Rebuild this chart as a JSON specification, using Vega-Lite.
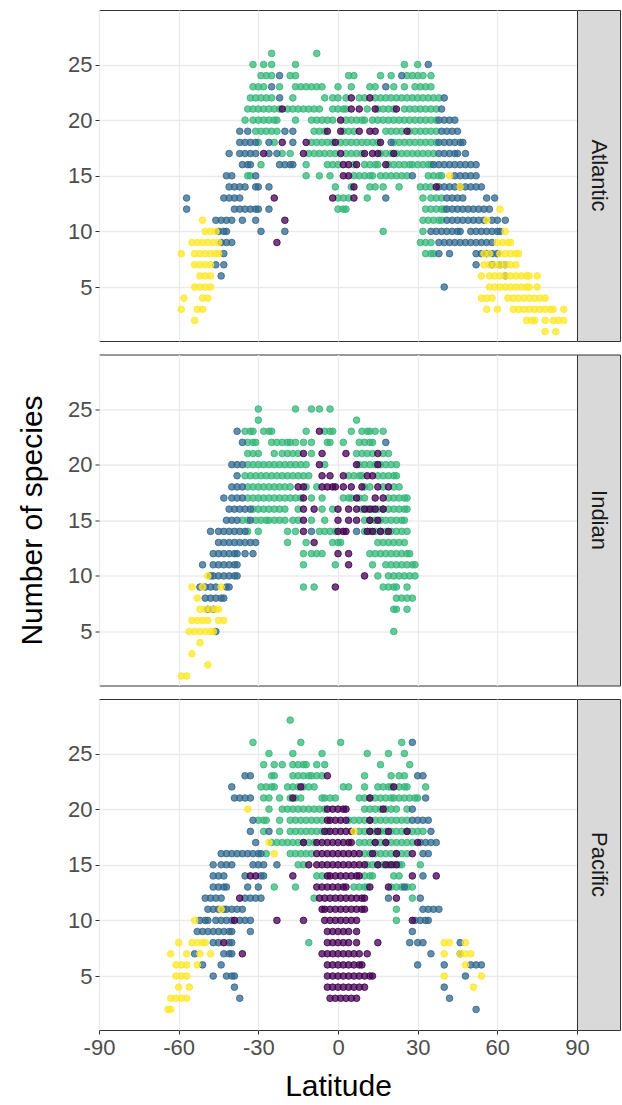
{
"$schema": "https://vega.github.io/schema/vega-lite/v6.json",
"background": "white",
"padding": {"left": 17, "top": 9, "right": 0, "bottom": 5},
"spacing": 11.5,
"config": {
  "font": "Liberation Sans",
  "view": {"stroke": "#333333", "strokeWidth": 1},
  "axis": {"gridColor": "#EBEBEB", "gridWidth": 1.3, "domain": false, "tickColor": "#333333", "tickSize": 4, "labelColor": "#4D4D4D", "labelFontSize": 22, "titleFontSize": 30, "titleFontWeight": "normal", "titleColor": "#000000", "labelPadding": 3, "titlePadding": 20, "labelFlush": false}
},
"datasets": {
"atl": [
{"lat":-25,"n":26,"grp":1},{"lat":-8,"n":26,"grp":1},
{"lat":-32,"n":25,"grp":1},{"lat":-28,"n":25,"grp":1},{"lat":-25,"n":25,"grp":1},{"lat":-16,"n":25,"grp":1},{"lat":25,"n":25,"grp":1},{"lat":30,"n":25,"grp":1},{"lat":34,"n":25,"grp":2},
{"lat":-29,"n":24,"grp":1},{"lat":-27,"n":24,"grp":1},{"lat":-25,"n":24,"grp":1},{"lat":-22,"n":24,"grp":2},{"lat":-18,"n":24,"grp":1},{"lat":-16,"n":24,"grp":1},{"lat":4,"n":24,"grp":1},{"lat":6,"n":24,"grp":1},{"lat":16,"n":24,"grp":1},{"lat":20,"n":24,"grp":1},{"lat":24,"n":24,"grp":2},{"lat":26,"n":24,"grp":1},{"lat":28,"n":24,"grp":1},{"lat":30,"n":24,"grp":1},{"lat":32,"n":24,"grp":1},{"lat":35,"n":24,"grp":1},
{"lat":-32,"n":23,"grp":1},{"lat":-30,"n":23,"grp":1},{"lat":-28,"n":23,"grp":1},{"lat":-22,"n":23,"grp":1},{"lat":-16,"n":23,"grp":1},{"lat":-14,"n":23,"grp":1},{"lat":-12,"n":23,"grp":1},{"lat":-10,"n":23,"grp":1},{"lat":-8,"n":23,"grp":1},{"lat":-6,"n":23,"grp":1},{"lat":0,"n":23,"grp":1},{"lat":5,"n":23,"grp":1},{"lat":12,"n":23,"grp":1},{"lat":14,"n":23,"grp":1},{"lat":21,"n":23,"grp":1},{"lat":25,"n":23,"grp":1},{"lat":29,"n":23,"grp":1},{"lat":31,"n":23,"grp":1},{"lat":33,"n":23,"grp":1},{"lat":35,"n":23,"grp":1},{"lat":-25,"n":23,"grp":2},{"lat":18,"n":23,"grp":2},
{"lat":-33,"n":22,"grp":1},{"lat":-31,"n":22,"grp":1},{"lat":-29,"n":22,"grp":1},{"lat":-27,"n":22,"grp":1},{"lat":-25,"n":22,"grp":1},{"lat":-17,"n":22,"grp":1},{"lat":-5,"n":22,"grp":1},{"lat":-2,"n":22,"grp":1},{"lat":0,"n":22,"grp":1},{"lat":3,"n":22,"grp":1},{"lat":8,"n":22,"grp":1},{"lat":10,"n":22,"grp":1},{"lat":14,"n":22,"grp":1},{"lat":16,"n":22,"grp":1},{"lat":18,"n":22,"grp":1},{"lat":20,"n":22,"grp":1},{"lat":22,"n":22,"grp":1},{"lat":24,"n":22,"grp":1},{"lat":26,"n":22,"grp":1},{"lat":28,"n":22,"grp":1},{"lat":30,"n":22,"grp":1},{"lat":32,"n":22,"grp":1},{"lat":34,"n":22,"grp":1},{"lat":36,"n":22,"grp":1},{"lat":38,"n":22,"grp":1},{"lat":5,"n":22,"grp":3},{"lat":12,"n":22,"grp":3},{"lat":-22,"n":22,"grp":2},{"lat":40,"n":22,"grp":2},
{"lat":-34,"n":21,"grp":1},{"lat":-32,"n":21,"grp":1},{"lat":-30,"n":21,"grp":1},{"lat":-28,"n":21,"grp":1},{"lat":-26,"n":21,"grp":1},{"lat":-24,"n":21,"grp":1},{"lat":-22,"n":21,"grp":1},{"lat":-19,"n":21,"grp":1},{"lat":-17,"n":21,"grp":1},{"lat":-15,"n":21,"grp":1},{"lat":-13,"n":21,"grp":1},{"lat":-11,"n":21,"grp":1},{"lat":-9,"n":21,"grp":1},{"lat":-7,"n":21,"grp":1},{"lat":-2,"n":21,"grp":1},{"lat":0,"n":21,"grp":1},{"lat":2,"n":21,"grp":1},{"lat":3,"n":21,"grp":1},{"lat":11,"n":21,"grp":1},{"lat":15,"n":21,"grp":1},{"lat":17,"n":21,"grp":1},{"lat":19,"n":21,"grp":1},{"lat":21,"n":21,"grp":1},{"lat":25,"n":21,"grp":1},{"lat":27,"n":21,"grp":1},{"lat":29,"n":21,"grp":1},{"lat":31,"n":21,"grp":1},{"lat":33,"n":21,"grp":1},{"lat":35,"n":21,"grp":1},{"lat":37,"n":21,"grp":1},{"lat":-21,"n":21,"grp":3},{"lat":5,"n":21,"grp":3},{"lat":8,"n":21,"grp":3},{"lat":14,"n":21,"grp":3},{"lat":22,"n":21,"grp":3},{"lat":39,"n":21,"grp":2},
{"lat":-35,"n":20,"grp":1},{"lat":-32,"n":20,"grp":1},{"lat":-30,"n":20,"grp":1},{"lat":-28,"n":20,"grp":1},{"lat":-26,"n":20,"grp":1},{"lat":-24,"n":20,"grp":1},{"lat":-23,"n":20,"grp":1},{"lat":-16,"n":20,"grp":1},{"lat":-10,"n":20,"grp":1},{"lat":-8,"n":20,"grp":1},{"lat":-6,"n":20,"grp":1},{"lat":-4,"n":20,"grp":1},{"lat":-2,"n":20,"grp":1},{"lat":3,"n":20,"grp":1},{"lat":5,"n":20,"grp":1},{"lat":7,"n":20,"grp":1},{"lat":9,"n":20,"grp":1},{"lat":10,"n":20,"grp":1},{"lat":13,"n":20,"grp":1},{"lat":15,"n":20,"grp":1},{"lat":17,"n":20,"grp":1},{"lat":19,"n":20,"grp":1},{"lat":21,"n":20,"grp":1},{"lat":23,"n":20,"grp":1},{"lat":25,"n":20,"grp":1},{"lat":27,"n":20,"grp":1},{"lat":29,"n":20,"grp":1},{"lat":31,"n":20,"grp":1},{"lat":33,"n":20,"grp":1},{"lat":35,"n":20,"grp":1},{"lat":37,"n":20,"grp":1},{"lat":1,"n":20,"grp":3},{"lat":38,"n":20,"grp":2},{"lat":40,"n":20,"grp":2},{"lat":42,"n":20,"grp":2},{"lat":44,"n":20,"grp":2},
{"lat":-37,"n":19,"grp":2},{"lat":-34,"n":19,"grp":2},{"lat":-20,"n":19,"grp":2},{"lat":-17,"n":19,"grp":2},{"lat":39,"n":19,"grp":2},{"lat":41,"n":19,"grp":2},{"lat":43,"n":19,"grp":2},{"lat":45,"n":19,"grp":2},{"lat":-31,"n":19,"grp":1},{"lat":-29,"n":19,"grp":1},{"lat":-27,"n":19,"grp":1},{"lat":-25,"n":19,"grp":1},{"lat":-23,"n":19,"grp":1},{"lat":-9,"n":19,"grp":1},{"lat":-7,"n":19,"grp":1},{"lat":-5,"n":19,"grp":1},{"lat":2,"n":19,"grp":1},{"lat":4,"n":19,"grp":1},{"lat":6,"n":19,"grp":1},{"lat":18,"n":19,"grp":1},{"lat":20,"n":19,"grp":1},{"lat":22,"n":19,"grp":1},{"lat":24,"n":19,"grp":1},{"lat":27,"n":19,"grp":1},{"lat":29,"n":19,"grp":1},{"lat":31,"n":19,"grp":1},{"lat":33,"n":19,"grp":1},{"lat":35,"n":19,"grp":1},{"lat":37,"n":19,"grp":1},{"lat":-4,"n":19,"grp":3},{"lat":1,"n":19,"grp":3},{"lat":8,"n":19,"grp":3},{"lat":12,"n":19,"grp":3},{"lat":14,"n":19,"grp":3},{"lat":26,"n":19,"grp":3},
{"lat":-37,"n":18,"grp":2},{"lat":-35,"n":18,"grp":2},{"lat":-33,"n":18,"grp":2},{"lat":-31,"n":18,"grp":2},{"lat":-26,"n":18,"grp":2},{"lat":-17,"n":18,"grp":2},{"lat":20,"n":18,"grp":2},{"lat":38,"n":18,"grp":2},{"lat":40,"n":18,"grp":2},{"lat":42,"n":18,"grp":2},{"lat":44,"n":18,"grp":2},{"lat":46,"n":18,"grp":2},{"lat":47,"n":18,"grp":2},{"lat":-30,"n":18,"grp":1},{"lat":-24,"n":18,"grp":1},{"lat":-10,"n":18,"grp":1},{"lat":-8,"n":18,"grp":1},{"lat":-6,"n":18,"grp":1},{"lat":-4,"n":18,"grp":1},{"lat":-2,"n":18,"grp":1},{"lat":1,"n":18,"grp":1},{"lat":3,"n":18,"grp":1},{"lat":5,"n":18,"grp":1},{"lat":7,"n":18,"grp":1},{"lat":9,"n":18,"grp":1},{"lat":11,"n":18,"grp":1},{"lat":13,"n":18,"grp":1},{"lat":15,"n":18,"grp":1},{"lat":21,"n":18,"grp":1},{"lat":23,"n":18,"grp":1},{"lat":25,"n":18,"grp":1},{"lat":27,"n":18,"grp":1},{"lat":29,"n":18,"grp":1},{"lat":31,"n":18,"grp":1},{"lat":33,"n":18,"grp":1},{"lat":35,"n":18,"grp":1},{"lat":37,"n":18,"grp":1},{"lat":-21,"n":18,"grp":3},{"lat":-12,"n":18,"grp":3},{"lat":-1,"n":18,"grp":3},{"lat":16,"n":18,"grp":3},
{"lat":-41,"n":17,"grp":2},{"lat":-37,"n":17,"grp":2},{"lat":-35,"n":17,"grp":2},{"lat":-33,"n":17,"grp":2},{"lat":-31,"n":17,"grp":2},{"lat":-26,"n":17,"grp":2},{"lat":-23,"n":17,"grp":2},{"lat":38,"n":17,"grp":2},{"lat":40,"n":17,"grp":2},{"lat":42,"n":17,"grp":2},{"lat":44,"n":17,"grp":2},{"lat":45,"n":17,"grp":2},{"lat":48,"n":17,"grp":2},{"lat":-21,"n":17,"grp":1},{"lat":-18,"n":17,"grp":1},{"lat":-11,"n":17,"grp":1},{"lat":-9,"n":17,"grp":1},{"lat":-7,"n":17,"grp":1},{"lat":-5,"n":17,"grp":1},{"lat":-3,"n":17,"grp":1},{"lat":-1,"n":17,"grp":1},{"lat":3,"n":17,"grp":1},{"lat":5,"n":17,"grp":1},{"lat":7,"n":17,"grp":1},{"lat":9,"n":17,"grp":1},{"lat":16,"n":17,"grp":1},{"lat":18,"n":17,"grp":1},{"lat":20,"n":17,"grp":1},{"lat":22,"n":17,"grp":1},{"lat":24,"n":17,"grp":1},{"lat":26,"n":17,"grp":1},{"lat":28,"n":17,"grp":1},{"lat":30,"n":17,"grp":1},{"lat":32,"n":17,"grp":1},{"lat":34,"n":17,"grp":1},{"lat":36,"n":17,"grp":1},{"lat":-28,"n":17,"grp":3},{"lat":-13,"n":17,"grp":3},{"lat":1,"n":17,"grp":3},{"lat":10,"n":17,"grp":3},{"lat":13,"n":17,"grp":3},{"lat":15,"n":17,"grp":3},{"lat":21,"n":17,"grp":3},
{"lat":-36,"n":16,"grp":2},{"lat":-34,"n":16,"grp":2},{"lat":-33,"n":16,"grp":2},{"lat":-22,"n":16,"grp":2},{"lat":-20,"n":16,"grp":2},{"lat":-18,"n":16,"grp":2},{"lat":-17,"n":16,"grp":2},{"lat":36,"n":16,"grp":2},{"lat":38,"n":16,"grp":2},{"lat":40,"n":16,"grp":2},{"lat":42,"n":16,"grp":2},{"lat":44,"n":16,"grp":2},{"lat":46,"n":16,"grp":2},{"lat":48,"n":16,"grp":2},{"lat":50,"n":16,"grp":2},{"lat":52,"n":16,"grp":2},{"lat":-29,"n":16,"grp":1},{"lat":-12,"n":16,"grp":1},{"lat":-4,"n":16,"grp":1},{"lat":-2,"n":16,"grp":1},{"lat":0,"n":16,"grp":1},{"lat":6,"n":16,"grp":1},{"lat":10,"n":16,"grp":1},{"lat":12,"n":16,"grp":1},{"lat":14,"n":16,"grp":1},{"lat":15,"n":16,"grp":1},{"lat":19,"n":16,"grp":1},{"lat":21,"n":16,"grp":1},{"lat":23,"n":16,"grp":1},{"lat":25,"n":16,"grp":1},{"lat":27,"n":16,"grp":1},{"lat":28,"n":16,"grp":1},{"lat":30,"n":16,"grp":1},{"lat":32,"n":16,"grp":1},{"lat":34,"n":16,"grp":1},{"lat":35,"n":16,"grp":1},{"lat":2,"n":16,"grp":3},{"lat":4,"n":16,"grp":3},{"lat":7,"n":16,"grp":3},{"lat":18,"n":16,"grp":3},
{"lat":-42,"n":15,"grp":2},{"lat":-40,"n":15,"grp":2},{"lat":-31,"n":15,"grp":2},{"lat":28,"n":15,"grp":2},{"lat":44,"n":15,"grp":2},{"lat":46,"n":15,"grp":2},{"lat":48,"n":15,"grp":2},{"lat":50,"n":15,"grp":2},{"lat":52,"n":15,"grp":2},{"lat":-34,"n":15,"grp":1},{"lat":-33,"n":15,"grp":1},{"lat":-12,"n":15,"grp":1},{"lat":-7,"n":15,"grp":1},{"lat":-3,"n":15,"grp":1},{"lat":6,"n":15,"grp":1},{"lat":8,"n":15,"grp":1},{"lat":10,"n":15,"grp":1},{"lat":12,"n":15,"grp":1},{"lat":13,"n":15,"grp":1},{"lat":16,"n":15,"grp":1},{"lat":18,"n":15,"grp":1},{"lat":20,"n":15,"grp":1},{"lat":22,"n":15,"grp":1},{"lat":24,"n":15,"grp":1},{"lat":26,"n":15,"grp":1},{"lat":34,"n":15,"grp":1},{"lat":36,"n":15,"grp":1},{"lat":38,"n":15,"grp":1},{"lat":39,"n":15,"grp":1},{"lat":2,"n":15,"grp":3},{"lat":4,"n":15,"grp":3},{"lat":42,"n":15,"grp":4},
{"lat":-41,"n":14,"grp":2},{"lat":-39,"n":14,"grp":2},{"lat":-37,"n":14,"grp":2},{"lat":-35,"n":14,"grp":2},{"lat":-31,"n":14,"grp":2},{"lat":-30,"n":14,"grp":2},{"lat":-26,"n":14,"grp":2},{"lat":38,"n":14,"grp":2},{"lat":40,"n":14,"grp":2},{"lat":42,"n":14,"grp":2},{"lat":44,"n":14,"grp":2},{"lat":46,"n":14,"grp":2},{"lat":48,"n":14,"grp":2},{"lat":50,"n":14,"grp":2},{"lat":52,"n":14,"grp":2},{"lat":54,"n":14,"grp":2},{"lat":-1,"n":14,"grp":1},{"lat":5,"n":14,"grp":1},{"lat":12,"n":14,"grp":1},{"lat":14,"n":14,"grp":1},{"lat":17,"n":14,"grp":1},{"lat":23,"n":14,"grp":1},{"lat":31,"n":14,"grp":1},{"lat":33,"n":14,"grp":1},{"lat":35,"n":14,"grp":1},{"lat":6,"n":14,"grp":3},{"lat":37,"n":14,"grp":3},{"lat":46,"n":14,"grp":4},
{"lat":-57,"n":13,"grp":2},{"lat":-43,"n":13,"grp":2},{"lat":-41,"n":13,"grp":2},{"lat":-39,"n":13,"grp":2},{"lat":-37,"n":13,"grp":2},{"lat":18,"n":13,"grp":2},{"lat":41,"n":13,"grp":2},{"lat":43,"n":13,"grp":2},{"lat":45,"n":13,"grp":2},{"lat":47,"n":13,"grp":2},{"lat":56,"n":13,"grp":2},{"lat":59,"n":13,"grp":2},{"lat":0,"n":13,"grp":1},{"lat":2,"n":13,"grp":1},{"lat":4,"n":13,"grp":1},{"lat":11,"n":13,"grp":1},{"lat":32,"n":13,"grp":1},{"lat":35,"n":13,"grp":1},{"lat":37,"n":13,"grp":1},{"lat":39,"n":13,"grp":1},{"lat":-24,"n":13,"grp":3},{"lat":-2,"n":13,"grp":3},{"lat":6,"n":13,"grp":3},
{"lat":-57,"n":12,"grp":2},{"lat":-39,"n":12,"grp":2},{"lat":-37,"n":12,"grp":2},{"lat":-35,"n":12,"grp":2},{"lat":-33,"n":12,"grp":2},{"lat":-31,"n":12,"grp":2},{"lat":-30,"n":12,"grp":2},{"lat":-26,"n":12,"grp":2},{"lat":41,"n":12,"grp":2},{"lat":43,"n":12,"grp":2},{"lat":45,"n":12,"grp":2},{"lat":47,"n":12,"grp":2},{"lat":49,"n":12,"grp":2},{"lat":51,"n":12,"grp":2},{"lat":53,"n":12,"grp":2},{"lat":55,"n":12,"grp":2},{"lat":57,"n":12,"grp":2},{"lat":0,"n":12,"grp":1},{"lat":2,"n":12,"grp":1},{"lat":3,"n":12,"grp":1},{"lat":33,"n":12,"grp":1},{"lat":35,"n":12,"grp":1},{"lat":37,"n":12,"grp":1},{"lat":39,"n":12,"grp":1},{"lat":40,"n":12,"grp":1},{"lat":61,"n":12,"grp":4},
{"lat":-51,"n":11,"grp":4},{"lat":56,"n":11,"grp":4},{"lat":-46,"n":11,"grp":2},{"lat":-44,"n":11,"grp":2},{"lat":-42,"n":11,"grp":2},{"lat":-40,"n":11,"grp":2},{"lat":-36,"n":11,"grp":2},{"lat":-31,"n":11,"grp":2},{"lat":41,"n":11,"grp":2},{"lat":43,"n":11,"grp":2},{"lat":45,"n":11,"grp":2},{"lat":47,"n":11,"grp":2},{"lat":49,"n":11,"grp":2},{"lat":51,"n":11,"grp":2},{"lat":53,"n":11,"grp":2},{"lat":55,"n":11,"grp":2},{"lat":58,"n":11,"grp":2},{"lat":60,"n":11,"grp":2},{"lat":63,"n":11,"grp":2},{"lat":32,"n":11,"grp":1},{"lat":34,"n":11,"grp":1},{"lat":36,"n":11,"grp":1},{"lat":38,"n":11,"grp":1},{"lat":39,"n":11,"grp":1},{"lat":-20,"n":11,"grp":3},
{"lat":-50,"n":10,"grp":4},{"lat":-48,"n":10,"grp":4},{"lat":-46,"n":10,"grp":4},{"lat":63,"n":10,"grp":4},{"lat":-45,"n":10,"grp":2},{"lat":-43,"n":10,"grp":2},{"lat":-42,"n":10,"grp":2},{"lat":-29,"n":10,"grp":2},{"lat":-20,"n":10,"grp":2},{"lat":35,"n":10,"grp":2},{"lat":37,"n":10,"grp":2},{"lat":39,"n":10,"grp":2},{"lat":41,"n":10,"grp":2},{"lat":43,"n":10,"grp":2},{"lat":45,"n":10,"grp":2},{"lat":46,"n":10,"grp":2},{"lat":50,"n":10,"grp":2},{"lat":52,"n":10,"grp":2},{"lat":54,"n":10,"grp":2},{"lat":56,"n":10,"grp":2},{"lat":58,"n":10,"grp":2},{"lat":60,"n":10,"grp":2},{"lat":61,"n":10,"grp":2},{"lat":17,"n":10,"grp":1},{"lat":32,"n":10,"grp":1},
{"lat":-55,"n":9,"grp":4},{"lat":-53,"n":9,"grp":4},{"lat":-51,"n":9,"grp":4},{"lat":-49,"n":9,"grp":4},{"lat":-47,"n":9,"grp":4},{"lat":-45,"n":9,"grp":4},{"lat":60,"n":9,"grp":4},{"lat":62,"n":9,"grp":4},{"lat":64,"n":9,"grp":4},{"lat":65,"n":9,"grp":4},{"lat":-44,"n":9,"grp":2},{"lat":-42,"n":9,"grp":2},{"lat":-40,"n":9,"grp":2},{"lat":38,"n":9,"grp":2},{"lat":40,"n":9,"grp":2},{"lat":42,"n":9,"grp":2},{"lat":44,"n":9,"grp":2},{"lat":46,"n":9,"grp":2},{"lat":48,"n":9,"grp":2},{"lat":50,"n":9,"grp":2},{"lat":52,"n":9,"grp":2},{"lat":54,"n":9,"grp":2},{"lat":56,"n":9,"grp":2},{"lat":58,"n":9,"grp":2},{"lat":31,"n":9,"grp":1},{"lat":33,"n":9,"grp":1},{"lat":35,"n":9,"grp":1},{"lat":-23,"n":9,"grp":3},
{"lat":-59,"n":8,"grp":4},{"lat":-54,"n":8,"grp":4},{"lat":-52,"n":8,"grp":4},{"lat":-50,"n":8,"grp":4},{"lat":-48,"n":8,"grp":4},{"lat":-46,"n":8,"grp":4},{"lat":-45,"n":8,"grp":4},{"lat":55,"n":8,"grp":4},{"lat":57,"n":8,"grp":4},{"lat":61,"n":8,"grp":4},{"lat":63,"n":8,"grp":4},{"lat":65,"n":8,"grp":4},{"lat":67,"n":8,"grp":4},{"lat":68,"n":8,"grp":4},{"lat":-43,"n":8,"grp":2},{"lat":38,"n":8,"grp":2},{"lat":42,"n":8,"grp":2},{"lat":52,"n":8,"grp":2},{"lat":54,"n":8,"grp":2},{"lat":56,"n":8,"grp":2},{"lat":58,"n":8,"grp":2},{"lat":60,"n":8,"grp":2},{"lat":33,"n":8,"grp":1},{"lat":35,"n":8,"grp":1},{"lat":36,"n":8,"grp":1},
{"lat":-54,"n":7,"grp":4},{"lat":-52,"n":7,"grp":4},{"lat":-50,"n":7,"grp":4},{"lat":-48,"n":7,"grp":4},{"lat":55,"n":7,"grp":4},{"lat":57,"n":7,"grp":4},{"lat":59,"n":7,"grp":4},{"lat":61,"n":7,"grp":4},{"lat":63,"n":7,"grp":4},{"lat":65,"n":7,"grp":4},{"lat":67,"n":7,"grp":4},{"lat":-46,"n":7,"grp":2},{"lat":-43,"n":7,"grp":2},{"lat":52,"n":7,"grp":2},{"lat":58,"n":7,"grp":2},{"lat":61,"n":7,"grp":2},{"lat":63,"n":7,"grp":2},
{"lat":-52,"n":6,"grp":4},{"lat":-50,"n":6,"grp":4},{"lat":-48,"n":6,"grp":4},{"lat":54,"n":6,"grp":4},{"lat":57,"n":6,"grp":4},{"lat":59,"n":6,"grp":4},{"lat":61,"n":6,"grp":4},{"lat":63,"n":6,"grp":4},{"lat":65,"n":6,"grp":4},{"lat":67,"n":6,"grp":4},{"lat":69,"n":6,"grp":4},{"lat":71,"n":6,"grp":4},{"lat":72,"n":6,"grp":4},{"lat":75,"n":6,"grp":4},{"lat":-44,"n":6,"grp":2},{"lat":63,"n":6,"grp":2},
{"lat":-54,"n":5,"grp":4},{"lat":-52,"n":5,"grp":4},{"lat":-50,"n":5,"grp":4},{"lat":-48,"n":5,"grp":4},{"lat":57,"n":5,"grp":4},{"lat":59,"n":5,"grp":4},{"lat":61,"n":5,"grp":4},{"lat":63,"n":5,"grp":4},{"lat":65,"n":5,"grp":4},{"lat":67,"n":5,"grp":4},{"lat":69,"n":5,"grp":4},{"lat":71,"n":5,"grp":4},{"lat":72,"n":5,"grp":4},{"lat":75,"n":5,"grp":4},{"lat":40,"n":5,"grp":2},
{"lat":-58,"n":4,"grp":4},{"lat":-51,"n":4,"grp":4},{"lat":-49,"n":4,"grp":4},{"lat":54,"n":4,"grp":4},{"lat":56,"n":4,"grp":4},{"lat":58,"n":4,"grp":4},{"lat":64,"n":4,"grp":4},{"lat":66,"n":4,"grp":4},{"lat":68,"n":4,"grp":4},{"lat":70,"n":4,"grp":4},{"lat":72,"n":4,"grp":4},{"lat":74,"n":4,"grp":4},{"lat":76,"n":4,"grp":4},{"lat":78,"n":4,"grp":4},
{"lat":-59,"n":3,"grp":4},{"lat":-53,"n":3,"grp":4},{"lat":-51,"n":3,"grp":4},{"lat":56,"n":3,"grp":4},{"lat":60,"n":3,"grp":4},{"lat":66,"n":3,"grp":4},{"lat":68,"n":3,"grp":4},{"lat":70,"n":3,"grp":4},{"lat":72,"n":3,"grp":4},{"lat":74,"n":3,"grp":4},{"lat":76,"n":3,"grp":4},{"lat":78,"n":3,"grp":4},{"lat":80,"n":3,"grp":4},{"lat":81,"n":3,"grp":4},{"lat":85,"n":3,"grp":4},
{"lat":-54,"n":2,"grp":4},{"lat":71,"n":2,"grp":4},{"lat":73,"n":2,"grp":4},{"lat":74,"n":2,"grp":4},{"lat":78,"n":2,"grp":4},{"lat":81,"n":2,"grp":4},{"lat":83,"n":2,"grp":4},{"lat":85,"n":2,"grp":4},
{"lat":78,"n":1,"grp":4},{"lat":82,"n":1,"grp":4}
],
"ind": [
{"lat":-30,"n":25,"grp":1},{"lat":-16,"n":25,"grp":1},{"lat":-10,"n":25,"grp":1},{"lat":-7,"n":25,"grp":1},{"lat":-3,"n":25,"grp":1},
{"lat":-30,"n":24,"grp":1},{"lat":7,"n":24,"grp":1},
{"lat":-38,"n":23,"grp":2},{"lat":-35,"n":23,"grp":1},{"lat":-33,"n":23,"grp":1},{"lat":-32,"n":23,"grp":1},{"lat":-28,"n":23,"grp":1},{"lat":-26,"n":23,"grp":1},{"lat":-25,"n":23,"grp":1},{"lat":-12,"n":23,"grp":1},{"lat":-5,"n":23,"grp":1},{"lat":-3,"n":23,"grp":1},{"lat":-2,"n":23,"grp":1},{"lat":5,"n":23,"grp":1},{"lat":9,"n":23,"grp":1},{"lat":11,"n":23,"grp":1},{"lat":12,"n":23,"grp":1},{"lat":14,"n":23,"grp":1},{"lat":17,"n":23,"grp":1},{"lat":-7,"n":23,"grp":3},
{"lat":-36,"n":22,"grp":2},{"lat":18,"n":22,"grp":2},{"lat":-34,"n":22,"grp":1},{"lat":-32,"n":22,"grp":1},{"lat":-31,"n":22,"grp":1},{"lat":-25,"n":22,"grp":1},{"lat":-23,"n":22,"grp":1},{"lat":-21,"n":22,"grp":1},{"lat":-19,"n":22,"grp":1},{"lat":-18,"n":22,"grp":1},{"lat":-16,"n":22,"grp":1},{"lat":-13,"n":22,"grp":1},{"lat":-10,"n":22,"grp":1},{"lat":-4,"n":22,"grp":1},{"lat":-3,"n":22,"grp":1},{"lat":2,"n":22,"grp":1},{"lat":8,"n":22,"grp":1},{"lat":10,"n":22,"grp":1},{"lat":12,"n":22,"grp":1},{"lat":13,"n":22,"grp":1},
{"lat":-34,"n":21,"grp":1},{"lat":-32,"n":21,"grp":1},{"lat":-30,"n":21,"grp":1},{"lat":-24,"n":21,"grp":1},{"lat":-21,"n":21,"grp":1},{"lat":-19,"n":21,"grp":1},{"lat":-17,"n":21,"grp":1},{"lat":-15,"n":21,"grp":1},{"lat":-10,"n":21,"grp":1},{"lat":7,"n":21,"grp":1},{"lat":9,"n":21,"grp":1},{"lat":11,"n":21,"grp":1},{"lat":13,"n":21,"grp":1},{"lat":17,"n":21,"grp":1},{"lat":19,"n":21,"grp":1},{"lat":-13,"n":21,"grp":3},{"lat":-6,"n":21,"grp":3},{"lat":3,"n":21,"grp":3},{"lat":15,"n":21,"grp":3},
{"lat":-40,"n":20,"grp":2},{"lat":-38,"n":20,"grp":2},{"lat":-36,"n":20,"grp":2},{"lat":-34,"n":20,"grp":1},{"lat":-32,"n":20,"grp":1},{"lat":-30,"n":20,"grp":1},{"lat":-28,"n":20,"grp":1},{"lat":-26,"n":20,"grp":1},{"lat":-24,"n":20,"grp":1},{"lat":-22,"n":20,"grp":1},{"lat":-20,"n":20,"grp":1},{"lat":-18,"n":20,"grp":1},{"lat":-16,"n":20,"grp":1},{"lat":-14,"n":20,"grp":1},{"lat":-12,"n":20,"grp":1},{"lat":-5,"n":20,"grp":1},{"lat":8,"n":20,"grp":1},{"lat":10,"n":20,"grp":1},{"lat":12,"n":20,"grp":1},{"lat":14,"n":20,"grp":1},{"lat":16,"n":20,"grp":1},{"lat":18,"n":20,"grp":1},{"lat":20,"n":20,"grp":1},{"lat":22,"n":20,"grp":1},{"lat":-7,"n":20,"grp":3},{"lat":7,"n":20,"grp":3},{"lat":15,"n":20,"grp":3},
{"lat":-38,"n":19,"grp":2},{"lat":-35,"n":19,"grp":1},{"lat":-33,"n":19,"grp":1},{"lat":-31,"n":19,"grp":1},{"lat":-29,"n":19,"grp":1},{"lat":-27,"n":19,"grp":1},{"lat":-25,"n":19,"grp":1},{"lat":-23,"n":19,"grp":1},{"lat":-21,"n":19,"grp":1},{"lat":-19,"n":19,"grp":1},{"lat":-17,"n":19,"grp":1},{"lat":-15,"n":19,"grp":1},{"lat":-13,"n":19,"grp":1},{"lat":-11,"n":19,"grp":1},{"lat":4,"n":19,"grp":1},{"lat":6,"n":19,"grp":1},{"lat":8,"n":19,"grp":1},{"lat":9,"n":19,"grp":1},{"lat":15,"n":19,"grp":1},{"lat":17,"n":19,"grp":1},{"lat":19,"n":19,"grp":1},{"lat":21,"n":19,"grp":1},{"lat":22,"n":19,"grp":1},{"lat":-6,"n":19,"grp":3},{"lat":-3,"n":19,"grp":3},{"lat":2,"n":19,"grp":3},{"lat":11,"n":19,"grp":3},{"lat":13,"n":19,"grp":3},
{"lat":-40,"n":18,"grp":2},{"lat":-38,"n":18,"grp":2},{"lat":-36,"n":18,"grp":2},{"lat":-34,"n":18,"grp":1},{"lat":-32,"n":18,"grp":1},{"lat":-30,"n":18,"grp":1},{"lat":-28,"n":18,"grp":1},{"lat":-26,"n":18,"grp":1},{"lat":-24,"n":18,"grp":1},{"lat":-22,"n":18,"grp":1},{"lat":-20,"n":18,"grp":1},{"lat":-18,"n":18,"grp":1},{"lat":-12,"n":18,"grp":1},{"lat":-8,"n":18,"grp":1},{"lat":10,"n":18,"grp":1},{"lat":12,"n":18,"grp":1},{"lat":17,"n":18,"grp":1},{"lat":21,"n":18,"grp":1},{"lat":23,"n":18,"grp":1},{"lat":-15,"n":18,"grp":3},{"lat":-13,"n":18,"grp":3},{"lat":-6,"n":18,"grp":3},{"lat":-4,"n":18,"grp":3},{"lat":-2,"n":18,"grp":3},{"lat":-1,"n":18,"grp":3},{"lat":2,"n":18,"grp":3},{"lat":5,"n":18,"grp":3},{"lat":9,"n":18,"grp":3},{"lat":15,"n":18,"grp":3},{"lat":19,"n":18,"grp":3},
{"lat":-43,"n":17,"grp":2},{"lat":-40,"n":17,"grp":2},{"lat":-38,"n":17,"grp":2},{"lat":-36,"n":17,"grp":2},{"lat":-34,"n":17,"grp":1},{"lat":-32,"n":17,"grp":1},{"lat":-30,"n":17,"grp":1},{"lat":-28,"n":17,"grp":1},{"lat":-26,"n":17,"grp":1},{"lat":-24,"n":17,"grp":1},{"lat":-22,"n":17,"grp":1},{"lat":-20,"n":17,"grp":1},{"lat":-18,"n":17,"grp":1},{"lat":-16,"n":17,"grp":1},{"lat":-14,"n":17,"grp":1},{"lat":-10,"n":17,"grp":1},{"lat":-6,"n":17,"grp":1},{"lat":2,"n":17,"grp":1},{"lat":4,"n":17,"grp":1},{"lat":5,"n":17,"grp":1},{"lat":8,"n":17,"grp":1},{"lat":10,"n":17,"grp":1},{"lat":19,"n":17,"grp":1},{"lat":21,"n":17,"grp":1},{"lat":23,"n":17,"grp":1},{"lat":25,"n":17,"grp":1},{"lat":26,"n":17,"grp":1},{"lat":-13,"n":17,"grp":3},{"lat":7,"n":17,"grp":3},{"lat":14,"n":17,"grp":3},{"lat":17,"n":17,"grp":3},
{"lat":-41,"n":16,"grp":2},{"lat":-39,"n":16,"grp":2},{"lat":-37,"n":16,"grp":2},{"lat":-35,"n":16,"grp":2},{"lat":-33,"n":16,"grp":2},{"lat":-32,"n":16,"grp":1},{"lat":-30,"n":16,"grp":1},{"lat":-28,"n":16,"grp":1},{"lat":-26,"n":16,"grp":1},{"lat":-24,"n":16,"grp":1},{"lat":-22,"n":16,"grp":1},{"lat":-20,"n":16,"grp":1},{"lat":-15,"n":16,"grp":1},{"lat":-6,"n":16,"grp":1},{"lat":-2,"n":16,"grp":1},{"lat":9,"n":16,"grp":1},{"lat":11,"n":16,"grp":1},{"lat":13,"n":16,"grp":1},{"lat":15,"n":16,"grp":1},{"lat":17,"n":16,"grp":1},{"lat":19,"n":16,"grp":1},{"lat":21,"n":16,"grp":1},{"lat":23,"n":16,"grp":1},{"lat":25,"n":16,"grp":1},{"lat":26,"n":16,"grp":1},{"lat":-13,"n":16,"grp":3},{"lat":-9,"n":16,"grp":3},{"lat":0,"n":16,"grp":3},{"lat":4,"n":16,"grp":3},{"lat":7,"n":16,"grp":3},{"lat":10,"n":16,"grp":3},{"lat":12,"n":16,"grp":3},{"lat":14,"n":16,"grp":3},{"lat":17,"n":16,"grp":3},
{"lat":-42,"n":15,"grp":2},{"lat":-40,"n":15,"grp":2},{"lat":-38,"n":15,"grp":2},{"lat":-33,"n":15,"grp":2},{"lat":-36,"n":15,"grp":1},{"lat":-34,"n":15,"grp":1},{"lat":-31,"n":15,"grp":1},{"lat":-29,"n":15,"grp":1},{"lat":-27,"n":15,"grp":1},{"lat":-26,"n":15,"grp":1},{"lat":-24,"n":15,"grp":1},{"lat":-22,"n":15,"grp":1},{"lat":-20,"n":15,"grp":1},{"lat":-17,"n":15,"grp":1},{"lat":-15,"n":15,"grp":1},{"lat":-10,"n":15,"grp":1},{"lat":-5,"n":15,"grp":1},{"lat":10,"n":15,"grp":1},{"lat":12,"n":15,"grp":1},{"lat":14,"n":15,"grp":1},{"lat":16,"n":15,"grp":1},{"lat":18,"n":15,"grp":1},{"lat":20,"n":15,"grp":1},{"lat":22,"n":15,"grp":1},{"lat":24,"n":15,"grp":1},{"lat":25,"n":15,"grp":1},{"lat":-13,"n":15,"grp":3},{"lat":0,"n":15,"grp":3},{"lat":4,"n":15,"grp":3},{"lat":7,"n":15,"grp":3},{"lat":12,"n":15,"grp":3},{"lat":15,"n":15,"grp":3},
{"lat":-48,"n":14,"grp":2},{"lat":-45,"n":14,"grp":2},{"lat":-43,"n":14,"grp":2},{"lat":-41,"n":14,"grp":2},{"lat":-39,"n":14,"grp":2},{"lat":-37,"n":14,"grp":2},{"lat":-35,"n":14,"grp":2},{"lat":-10,"n":14,"grp":2},{"lat":7,"n":14,"grp":2},{"lat":-34,"n":14,"grp":1},{"lat":-30,"n":14,"grp":1},{"lat":-19,"n":14,"grp":1},{"lat":-16,"n":14,"grp":1},{"lat":-7,"n":14,"grp":1},{"lat":-5,"n":14,"grp":1},{"lat":-3,"n":14,"grp":1},{"lat":-1,"n":14,"grp":1},{"lat":10,"n":14,"grp":1},{"lat":12,"n":14,"grp":1},{"lat":14,"n":14,"grp":1},{"lat":16,"n":14,"grp":1},{"lat":18,"n":14,"grp":1},{"lat":20,"n":14,"grp":1},{"lat":22,"n":14,"grp":1},{"lat":24,"n":14,"grp":1},{"lat":26,"n":14,"grp":1},{"lat":-13,"n":14,"grp":3},{"lat":0,"n":14,"grp":3},{"lat":2,"n":14,"grp":3},{"lat":3,"n":14,"grp":3},{"lat":11,"n":14,"grp":3},{"lat":13,"n":14,"grp":3},{"lat":16,"n":14,"grp":3},{"lat":19,"n":14,"grp":3},
{"lat":-45,"n":13,"grp":2},{"lat":-43,"n":13,"grp":2},{"lat":-41,"n":13,"grp":2},{"lat":-39,"n":13,"grp":2},{"lat":-37,"n":13,"grp":2},{"lat":-35,"n":13,"grp":2},{"lat":-33,"n":13,"grp":2},{"lat":-31,"n":13,"grp":2},{"lat":-19,"n":13,"grp":1},{"lat":-12,"n":13,"grp":1},{"lat":-2,"n":13,"grp":1},{"lat":0,"n":13,"grp":1},{"lat":1,"n":13,"grp":1},{"lat":15,"n":13,"grp":1},{"lat":17,"n":13,"grp":1},{"lat":19,"n":13,"grp":1},{"lat":21,"n":13,"grp":1},{"lat":23,"n":13,"grp":1},{"lat":25,"n":13,"grp":1},{"lat":-9,"n":13,"grp":3},
{"lat":-47,"n":12,"grp":2},{"lat":-45,"n":12,"grp":2},{"lat":-43,"n":12,"grp":2},{"lat":-41,"n":12,"grp":2},{"lat":-39,"n":12,"grp":2},{"lat":-38,"n":12,"grp":2},{"lat":-35,"n":12,"grp":2},{"lat":-32,"n":12,"grp":2},{"lat":-13,"n":12,"grp":1},{"lat":-10,"n":12,"grp":1},{"lat":-8,"n":12,"grp":1},{"lat":-6,"n":12,"grp":1},{"lat":12,"n":12,"grp":1},{"lat":14,"n":12,"grp":1},{"lat":16,"n":12,"grp":1},{"lat":18,"n":12,"grp":1},{"lat":20,"n":12,"grp":1},{"lat":22,"n":12,"grp":1},{"lat":24,"n":12,"grp":1},{"lat":26,"n":12,"grp":1},{"lat":27,"n":12,"grp":1},{"lat":0,"n":12,"grp":3},{"lat":4,"n":12,"grp":3},
{"lat":-51,"n":11,"grp":2},{"lat":-47,"n":11,"grp":2},{"lat":-45,"n":11,"grp":2},{"lat":-43,"n":11,"grp":2},{"lat":-41,"n":11,"grp":2},{"lat":-39,"n":11,"grp":2},{"lat":-38,"n":11,"grp":2},{"lat":-13,"n":11,"grp":1},{"lat":-1,"n":11,"grp":1},{"lat":13,"n":11,"grp":1},{"lat":18,"n":11,"grp":1},{"lat":20,"n":11,"grp":1},{"lat":22,"n":11,"grp":1},{"lat":24,"n":11,"grp":1},{"lat":26,"n":11,"grp":1},{"lat":28,"n":11,"grp":1},{"lat":29,"n":11,"grp":1},{"lat":4,"n":11,"grp":3},
{"lat":-48,"n":10,"grp":2},{"lat":-47,"n":10,"grp":2},{"lat":-45,"n":10,"grp":2},{"lat":-43,"n":10,"grp":2},{"lat":-41,"n":10,"grp":2},{"lat":-39,"n":10,"grp":2},{"lat":-38,"n":10,"grp":2},{"lat":15,"n":10,"grp":1},{"lat":19,"n":10,"grp":1},{"lat":21,"n":10,"grp":1},{"lat":23,"n":10,"grp":1},{"lat":25,"n":10,"grp":1},{"lat":27,"n":10,"grp":1},{"lat":29,"n":10,"grp":1},{"lat":10,"n":10,"grp":3},{"lat":-49,"n":10,"grp":4},
{"lat":-52,"n":9,"grp":2},{"lat":-50,"n":9,"grp":2},{"lat":-48,"n":9,"grp":2},{"lat":-46,"n":9,"grp":2},{"lat":-42,"n":9,"grp":2},{"lat":-41,"n":9,"grp":2},{"lat":-13,"n":9,"grp":1},{"lat":-9,"n":9,"grp":1},{"lat":17,"n":9,"grp":1},{"lat":19,"n":9,"grp":1},{"lat":21,"n":9,"grp":1},{"lat":22,"n":9,"grp":1},{"lat":26,"n":9,"grp":1},{"lat":-1,"n":9,"grp":3},{"lat":-55,"n":9,"grp":4},{"lat":-51,"n":9,"grp":4},{"lat":-44,"n":9,"grp":4},
{"lat":-50,"n":8,"grp":2},{"lat":-48,"n":8,"grp":2},{"lat":-46,"n":8,"grp":2},{"lat":-44,"n":8,"grp":2},{"lat":-43,"n":8,"grp":2},{"lat":22,"n":8,"grp":1},{"lat":24,"n":8,"grp":1},{"lat":26,"n":8,"grp":1},{"lat":28,"n":8,"grp":1},{"lat":-53,"n":8,"grp":4},
{"lat":-49,"n":7,"grp":2},{"lat":-47,"n":7,"grp":2},{"lat":21,"n":7,"grp":1},{"lat":22,"n":7,"grp":1},{"lat":26,"n":7,"grp":1},{"lat":-52,"n":7,"grp":4},{"lat":-50,"n":7,"grp":4},{"lat":-48,"n":7,"grp":4},{"lat":-46,"n":7,"grp":4},{"lat":-45,"n":7,"grp":4},
{"lat":-55,"n":6,"grp":4},{"lat":-53,"n":6,"grp":4},{"lat":-51,"n":6,"grp":4},{"lat":-49,"n":6,"grp":4},{"lat":-45,"n":6,"grp":4},{"lat":-43,"n":6,"grp":4},
{"lat":-46,"n":5,"grp":2},{"lat":21,"n":5,"grp":1},{"lat":-56,"n":5,"grp":4},{"lat":-54,"n":5,"grp":4},{"lat":-52,"n":5,"grp":4},{"lat":-50,"n":5,"grp":4},{"lat":-48,"n":5,"grp":4},{"lat":-47,"n":5,"grp":4},
{"lat":-52,"n":4,"grp":4},{"lat":-55,"n":3,"grp":4},{"lat":-49,"n":2,"grp":4},{"lat":-59,"n":1,"grp":4},{"lat":-57,"n":1,"grp":4}
],
"pac": [
{"lat":-18,"n":28,"grp":1},
{"lat":-32,"n":26,"grp":1},{"lat":-14,"n":26,"grp":1},{"lat":1,"n":26,"grp":1},{"lat":24,"n":26,"grp":1},{"lat":28,"n":26,"grp":2},
{"lat":-26,"n":25,"grp":1},{"lat":-17,"n":25,"grp":1},{"lat":-6,"n":25,"grp":1},{"lat":11,"n":25,"grp":1},{"lat":19,"n":25,"grp":1},{"lat":25,"n":25,"grp":1},
{"lat":-28,"n":24,"grp":1},{"lat":-24,"n":24,"grp":1},{"lat":-21,"n":24,"grp":1},{"lat":-17,"n":24,"grp":1},{"lat":-15,"n":24,"grp":1},{"lat":-13,"n":24,"grp":1},{"lat":-12,"n":24,"grp":1},{"lat":-8,"n":24,"grp":1},{"lat":-5,"n":24,"grp":1},{"lat":16,"n":24,"grp":1},{"lat":27,"n":24,"grp":1},
{"lat":-35,"n":23,"grp":2},{"lat":-33,"n":23,"grp":2},{"lat":30,"n":23,"grp":2},{"lat":32,"n":23,"grp":2},{"lat":-25,"n":23,"grp":1},{"lat":-24,"n":23,"grp":1},{"lat":-17,"n":23,"grp":1},{"lat":-15,"n":23,"grp":1},{"lat":-13,"n":23,"grp":1},{"lat":-11,"n":23,"grp":1},{"lat":-10,"n":23,"grp":1},{"lat":-8,"n":23,"grp":1},{"lat":-6,"n":23,"grp":1},{"lat":10,"n":23,"grp":1},{"lat":20,"n":23,"grp":1},{"lat":23,"n":23,"grp":1},{"lat":25,"n":23,"grp":1},{"lat":-4,"n":23,"grp":3},
{"lat":-40,"n":22,"grp":2},{"lat":-29,"n":22,"grp":1},{"lat":-27,"n":22,"grp":1},{"lat":-25,"n":22,"grp":1},{"lat":-24,"n":22,"grp":1},{"lat":-19,"n":22,"grp":1},{"lat":-17,"n":22,"grp":1},{"lat":-15,"n":22,"grp":1},{"lat":-13,"n":22,"grp":1},{"lat":-11,"n":22,"grp":1},{"lat":-9,"n":22,"grp":1},{"lat":2,"n":22,"grp":1},{"lat":4,"n":22,"grp":1},{"lat":10,"n":22,"grp":1},{"lat":15,"n":22,"grp":1},{"lat":17,"n":22,"grp":1},{"lat":19,"n":22,"grp":1},{"lat":20,"n":22,"grp":1},{"lat":23,"n":22,"grp":1},{"lat":25,"n":22,"grp":1},{"lat":26,"n":22,"grp":1},{"lat":33,"n":22,"grp":1},{"lat":-14,"n":22,"grp":3},{"lat":21,"n":22,"grp":3},
{"lat":-39,"n":21,"grp":2},{"lat":-37,"n":21,"grp":2},{"lat":-35,"n":21,"grp":2},{"lat":-33,"n":21,"grp":2},{"lat":33,"n":21,"grp":2},{"lat":-28,"n":21,"grp":1},{"lat":-26,"n":21,"grp":1},{"lat":-22,"n":21,"grp":1},{"lat":-18,"n":21,"grp":1},{"lat":-16,"n":21,"grp":1},{"lat":-14,"n":21,"grp":1},{"lat":-6,"n":21,"grp":1},{"lat":-5,"n":21,"grp":1},{"lat":-3,"n":21,"grp":1},{"lat":-1,"n":21,"grp":1},{"lat":8,"n":21,"grp":1},{"lat":10,"n":21,"grp":1},{"lat":12,"n":21,"grp":1},{"lat":14,"n":21,"grp":1},{"lat":16,"n":21,"grp":1},{"lat":18,"n":21,"grp":1},{"lat":20,"n":21,"grp":1},{"lat":21,"n":21,"grp":1},{"lat":23,"n":21,"grp":1},{"lat":25,"n":21,"grp":1},{"lat":27,"n":21,"grp":1},{"lat":29,"n":21,"grp":1},{"lat":30,"n":21,"grp":1},{"lat":-17,"n":21,"grp":3},{"lat":12,"n":21,"grp":3},
{"lat":-34,"n":20,"grp":4},{"lat":-26,"n":20,"grp":1},{"lat":-21,"n":20,"grp":1},{"lat":-19,"n":20,"grp":1},{"lat":-17,"n":20,"grp":1},{"lat":-15,"n":20,"grp":1},{"lat":-13,"n":20,"grp":1},{"lat":-11,"n":20,"grp":1},{"lat":-9,"n":20,"grp":1},{"lat":-7,"n":20,"grp":1},{"lat":-5,"n":20,"grp":1},{"lat":10,"n":20,"grp":1},{"lat":12,"n":20,"grp":1},{"lat":14,"n":20,"grp":1},{"lat":16,"n":20,"grp":1},{"lat":18,"n":20,"grp":1},{"lat":20,"n":20,"grp":1},{"lat":22,"n":20,"grp":1},{"lat":26,"n":20,"grp":1},{"lat":-4,"n":20,"grp":3},{"lat":-2,"n":20,"grp":3},{"lat":0,"n":20,"grp":3},{"lat":2,"n":20,"grp":3},{"lat":3,"n":20,"grp":3},{"lat":17,"n":20,"grp":3},{"lat":28,"n":20,"grp":2},
{"lat":-32,"n":19,"grp":2},{"lat":28,"n":19,"grp":2},{"lat":30,"n":19,"grp":2},{"lat":32,"n":19,"grp":2},{"lat":34,"n":19,"grp":2},{"lat":-30,"n":19,"grp":1},{"lat":-28,"n":19,"grp":1},{"lat":-27,"n":19,"grp":1},{"lat":-22,"n":19,"grp":1},{"lat":-18,"n":19,"grp":1},{"lat":-16,"n":19,"grp":1},{"lat":-14,"n":19,"grp":1},{"lat":-12,"n":19,"grp":1},{"lat":-10,"n":19,"grp":1},{"lat":-8,"n":19,"grp":1},{"lat":-6,"n":19,"grp":1},{"lat":4,"n":19,"grp":1},{"lat":6,"n":19,"grp":1},{"lat":8,"n":19,"grp":1},{"lat":10,"n":19,"grp":1},{"lat":12,"n":19,"grp":1},{"lat":14,"n":19,"grp":1},{"lat":16,"n":19,"grp":1},{"lat":18,"n":19,"grp":1},{"lat":20,"n":19,"grp":1},{"lat":22,"n":19,"grp":1},{"lat":24,"n":19,"grp":1},{"lat":26,"n":19,"grp":1},{"lat":-4,"n":19,"grp":3},{"lat":-3,"n":19,"grp":3},{"lat":-1,"n":19,"grp":3},{"lat":1,"n":19,"grp":3},{"lat":3,"n":19,"grp":3},{"lat":12,"n":19,"grp":3},
{"lat":-33,"n":18,"grp":2},{"lat":-26,"n":18,"grp":2},{"lat":35,"n":18,"grp":2},{"lat":-28,"n":18,"grp":1},{"lat":-22,"n":18,"grp":1},{"lat":-18,"n":18,"grp":1},{"lat":-16,"n":18,"grp":1},{"lat":-14,"n":18,"grp":1},{"lat":-12,"n":18,"grp":1},{"lat":-10,"n":18,"grp":1},{"lat":-8,"n":18,"grp":1},{"lat":-6,"n":18,"grp":1},{"lat":-4,"n":18,"grp":1},{"lat":8,"n":18,"grp":1},{"lat":10,"n":18,"grp":1},{"lat":12,"n":18,"grp":1},{"lat":14,"n":18,"grp":1},{"lat":16,"n":18,"grp":1},{"lat":18,"n":18,"grp":1},{"lat":20,"n":18,"grp":1},{"lat":22,"n":18,"grp":1},{"lat":24,"n":18,"grp":1},{"lat":26,"n":18,"grp":1},{"lat":28,"n":18,"grp":1},{"lat":30,"n":18,"grp":1},{"lat":32,"n":18,"grp":1},{"lat":-5,"n":18,"grp":3},{"lat":-3,"n":18,"grp":3},{"lat":-1,"n":18,"grp":3},{"lat":1,"n":18,"grp":3},{"lat":3,"n":18,"grp":3},{"lat":5,"n":18,"grp":3},{"lat":12,"n":18,"grp":3},{"lat":15,"n":18,"grp":3},{"lat":19,"n":18,"grp":3},{"lat":26,"n":18,"grp":3},{"lat":6,"n":18,"grp":4},
{"lat":-31,"n":17,"grp":2},{"lat":31,"n":17,"grp":2},{"lat":33,"n":17,"grp":2},{"lat":35,"n":17,"grp":2},{"lat":37,"n":17,"grp":2},{"lat":-26,"n":17,"grp":4},{"lat":-25,"n":17,"grp":1},{"lat":-23,"n":17,"grp":1},{"lat":-21,"n":17,"grp":1},{"lat":-19,"n":17,"grp":1},{"lat":-17,"n":17,"grp":1},{"lat":-15,"n":17,"grp":1},{"lat":-13,"n":17,"grp":1},{"lat":-11,"n":17,"grp":1},{"lat":-9,"n":17,"grp":1},{"lat":8,"n":17,"grp":1},{"lat":10,"n":17,"grp":1},{"lat":12,"n":17,"grp":1},{"lat":14,"n":17,"grp":1},{"lat":16,"n":17,"grp":1},{"lat":18,"n":17,"grp":1},{"lat":20,"n":17,"grp":1},{"lat":22,"n":17,"grp":1},{"lat":24,"n":17,"grp":1},{"lat":26,"n":17,"grp":1},{"lat":28,"n":17,"grp":1},{"lat":-13,"n":17,"grp":3},{"lat":-8,"n":17,"grp":3},{"lat":-6,"n":17,"grp":3},{"lat":-4,"n":17,"grp":3},{"lat":-2,"n":17,"grp":3},{"lat":0,"n":17,"grp":3},{"lat":2,"n":17,"grp":3},{"lat":4,"n":17,"grp":3},{"lat":5,"n":17,"grp":3},{"lat":14,"n":17,"grp":3},{"lat":18,"n":17,"grp":3},{"lat":30,"n":17,"grp":3},
{"lat":-44,"n":16,"grp":2},{"lat":-42,"n":16,"grp":2},{"lat":-40,"n":16,"grp":2},{"lat":-38,"n":16,"grp":2},{"lat":-36,"n":16,"grp":2},{"lat":-34,"n":16,"grp":2},{"lat":-32,"n":16,"grp":2},{"lat":-30,"n":16,"grp":2},{"lat":-29,"n":16,"grp":2},{"lat":32,"n":16,"grp":2},{"lat":34,"n":16,"grp":2},{"lat":-27,"n":16,"grp":1},{"lat":-18,"n":16,"grp":1},{"lat":-16,"n":16,"grp":1},{"lat":-14,"n":16,"grp":1},{"lat":-12,"n":16,"grp":1},{"lat":-10,"n":16,"grp":1},{"lat":10,"n":16,"grp":1},{"lat":12,"n":16,"grp":1},{"lat":14,"n":16,"grp":1},{"lat":16,"n":16,"grp":1},{"lat":18,"n":16,"grp":1},{"lat":20,"n":16,"grp":1},{"lat":22,"n":16,"grp":1},{"lat":24,"n":16,"grp":1},{"lat":26,"n":16,"grp":1},{"lat":-24,"n":16,"grp":4},{"lat":-8,"n":16,"grp":3},{"lat":-6,"n":16,"grp":3},{"lat":-4,"n":16,"grp":3},{"lat":-2,"n":16,"grp":3},{"lat":0,"n":16,"grp":3},{"lat":2,"n":16,"grp":3},{"lat":4,"n":16,"grp":3},{"lat":6,"n":16,"grp":3},{"lat":8,"n":16,"grp":3},{"lat":13,"n":16,"grp":3},{"lat":22,"n":16,"grp":3},{"lat":28,"n":16,"grp":3},
{"lat":-47,"n":15,"grp":2},{"lat":-44,"n":15,"grp":2},{"lat":-42,"n":15,"grp":2},{"lat":-40,"n":15,"grp":2},{"lat":-32,"n":15,"grp":2},{"lat":-30,"n":15,"grp":2},{"lat":-28,"n":15,"grp":2},{"lat":-23,"n":15,"grp":2},{"lat":-15,"n":15,"grp":1},{"lat":-13,"n":15,"grp":1},{"lat":11,"n":15,"grp":1},{"lat":13,"n":15,"grp":1},{"lat":15,"n":15,"grp":1},{"lat":17,"n":15,"grp":1},{"lat":19,"n":15,"grp":1},{"lat":21,"n":15,"grp":1},{"lat":23,"n":15,"grp":1},{"lat":24,"n":15,"grp":1},{"lat":31,"n":15,"grp":1},{"lat":-11,"n":15,"grp":3},{"lat":-8,"n":15,"grp":3},{"lat":-6,"n":15,"grp":3},{"lat":-4,"n":15,"grp":3},{"lat":-2,"n":15,"grp":3},{"lat":0,"n":15,"grp":3},{"lat":2,"n":15,"grp":3},{"lat":4,"n":15,"grp":3},{"lat":6,"n":15,"grp":3},{"lat":8,"n":15,"grp":3},{"lat":10,"n":15,"grp":3},{"lat":15,"n":15,"grp":3},{"lat":18,"n":15,"grp":3},{"lat":20,"n":15,"grp":3},{"lat":22,"n":15,"grp":3},
{"lat":-47,"n":14,"grp":2},{"lat":-45,"n":14,"grp":2},{"lat":-43,"n":14,"grp":2},{"lat":-35,"n":14,"grp":2},{"lat":-29,"n":14,"grp":2},{"lat":-28,"n":14,"grp":2},{"lat":32,"n":14,"grp":2},{"lat":-8,"n":14,"grp":1},{"lat":-6,"n":14,"grp":1},{"lat":10,"n":14,"grp":1},{"lat":12,"n":14,"grp":1},{"lat":13,"n":14,"grp":1},{"lat":21,"n":14,"grp":1},{"lat":23,"n":14,"grp":1},{"lat":-33,"n":14,"grp":3},{"lat":-31,"n":14,"grp":3},{"lat":-17,"n":14,"grp":3},{"lat":-4,"n":14,"grp":3},{"lat":-3,"n":14,"grp":3},{"lat":-1,"n":14,"grp":3},{"lat":1,"n":14,"grp":3},{"lat":3,"n":14,"grp":3},{"lat":5,"n":14,"grp":3},{"lat":7,"n":14,"grp":3},{"lat":8,"n":14,"grp":3},{"lat":28,"n":14,"grp":3},{"lat":37,"n":14,"grp":3},
{"lat":-47,"n":13,"grp":2},{"lat":-45,"n":13,"grp":2},{"lat":-43,"n":13,"grp":2},{"lat":-42,"n":13,"grp":2},{"lat":-34,"n":13,"grp":2},{"lat":-30,"n":13,"grp":2},{"lat":25,"n":13,"grp":2},{"lat":-24,"n":13,"grp":1},{"lat":-16,"n":13,"grp":1},{"lat":6,"n":13,"grp":1},{"lat":8,"n":13,"grp":1},{"lat":10,"n":13,"grp":1},{"lat":11,"n":13,"grp":1},{"lat":20,"n":13,"grp":1},{"lat":22,"n":13,"grp":1},{"lat":24,"n":13,"grp":1},{"lat":26,"n":13,"grp":1},{"lat":28,"n":13,"grp":1},{"lat":-8,"n":13,"grp":3},{"lat":-6,"n":13,"grp":3},{"lat":-4,"n":13,"grp":3},{"lat":-2,"n":13,"grp":3},{"lat":0,"n":13,"grp":3},{"lat":2,"n":13,"grp":3},{"lat":3,"n":13,"grp":3},{"lat":12,"n":13,"grp":3},{"lat":19,"n":13,"grp":3},
{"lat":-50,"n":12,"grp":2},{"lat":-48,"n":12,"grp":2},{"lat":-46,"n":12,"grp":2},{"lat":-44,"n":12,"grp":2},{"lat":-35,"n":12,"grp":2},{"lat":-33,"n":12,"grp":2},{"lat":-31,"n":12,"grp":2},{"lat":-29,"n":12,"grp":2},{"lat":19,"n":12,"grp":2},{"lat":31,"n":12,"grp":2},{"lat":-9,"n":12,"grp":1},{"lat":28,"n":12,"grp":1},{"lat":-37,"n":12,"grp":3},{"lat":-7,"n":12,"grp":3},{"lat":-5,"n":12,"grp":3},{"lat":-3,"n":12,"grp":3},{"lat":-1,"n":12,"grp":3},{"lat":1,"n":12,"grp":3},{"lat":3,"n":12,"grp":3},{"lat":5,"n":12,"grp":3},{"lat":7,"n":12,"grp":3},{"lat":9,"n":12,"grp":3},{"lat":10,"n":12,"grp":3},{"lat":22,"n":12,"grp":3},
{"lat":-49,"n":11,"grp":2},{"lat":-47,"n":11,"grp":2},{"lat":-45,"n":11,"grp":2},{"lat":-43,"n":11,"grp":2},{"lat":-42,"n":11,"grp":2},{"lat":-40,"n":11,"grp":2},{"lat":-38,"n":11,"grp":2},{"lat":-36,"n":11,"grp":2},{"lat":32,"n":11,"grp":2},{"lat":34,"n":11,"grp":2},{"lat":36,"n":11,"grp":2},{"lat":38,"n":11,"grp":2},{"lat":22,"n":11,"grp":1},{"lat":-6,"n":11,"grp":3},{"lat":-5,"n":11,"grp":3},{"lat":-3,"n":11,"grp":3},{"lat":-1,"n":11,"grp":3},{"lat":1,"n":11,"grp":3},{"lat":3,"n":11,"grp":3},{"lat":5,"n":11,"grp":3},{"lat":7,"n":11,"grp":3},{"lat":9,"n":11,"grp":3},{"lat":10,"n":11,"grp":3},{"lat":-44,"n":11,"grp":4},
{"lat":-52,"n":10,"grp":2},{"lat":-50,"n":10,"grp":2},{"lat":-49,"n":10,"grp":2},{"lat":-46,"n":10,"grp":2},{"lat":-44,"n":10,"grp":2},{"lat":-42,"n":10,"grp":2},{"lat":-40,"n":10,"grp":2},{"lat":-37,"n":10,"grp":2},{"lat":-35,"n":10,"grp":2},{"lat":-33,"n":10,"grp":2},{"lat":29,"n":10,"grp":2},{"lat":31,"n":10,"grp":2},{"lat":33,"n":10,"grp":2},{"lat":34,"n":10,"grp":2},{"lat":22,"n":10,"grp":1},{"lat":-39,"n":10,"grp":3},{"lat":-23,"n":10,"grp":3},{"lat":-13,"n":10,"grp":3},{"lat":-5,"n":10,"grp":3},{"lat":-3,"n":10,"grp":3},{"lat":-1,"n":10,"grp":3},{"lat":1,"n":10,"grp":3},{"lat":3,"n":10,"grp":3},{"lat":5,"n":10,"grp":3},{"lat":7,"n":10,"grp":3},{"lat":28,"n":10,"grp":3},{"lat":-54,"n":10,"grp":4},
{"lat":-53,"n":9,"grp":2},{"lat":-51,"n":9,"grp":2},{"lat":-49,"n":9,"grp":2},{"lat":-47,"n":9,"grp":2},{"lat":-45,"n":9,"grp":2},{"lat":-43,"n":9,"grp":2},{"lat":-41,"n":9,"grp":2},{"lat":-40,"n":9,"grp":2},{"lat":-33,"n":9,"grp":2},{"lat":28,"n":9,"grp":2},{"lat":-4,"n":9,"grp":3},{"lat":-2,"n":9,"grp":3},{"lat":0,"n":9,"grp":3},{"lat":2,"n":9,"grp":3},{"lat":4,"n":9,"grp":3},{"lat":7,"n":9,"grp":3},
{"lat":-47,"n":8,"grp":2},{"lat":-45,"n":8,"grp":2},{"lat":-41,"n":8,"grp":2},{"lat":-40,"n":8,"grp":2},{"lat":27,"n":8,"grp":2},{"lat":30,"n":8,"grp":2},{"lat":32,"n":8,"grp":2},{"lat":46,"n":8,"grp":2},{"lat":-11,"n":8,"grp":1},{"lat":-43,"n":8,"grp":3},{"lat":-4,"n":8,"grp":3},{"lat":-2,"n":8,"grp":3},{"lat":0,"n":8,"grp":3},{"lat":2,"n":8,"grp":3},{"lat":4,"n":8,"grp":3},{"lat":7,"n":8,"grp":3},{"lat":15,"n":8,"grp":3},{"lat":-60,"n":8,"grp":4},{"lat":-55,"n":8,"grp":4},{"lat":-53,"n":8,"grp":4},{"lat":-51,"n":8,"grp":4},{"lat":-50,"n":8,"grp":4},{"lat":40,"n":8,"grp":4},{"lat":42,"n":8,"grp":4},{"lat":48,"n":8,"grp":4},
{"lat":-54,"n":7,"grp":2},{"lat":-43,"n":7,"grp":2},{"lat":-41,"n":7,"grp":2},{"lat":-40,"n":7,"grp":2},{"lat":35,"n":7,"grp":2},{"lat":46,"n":7,"grp":2},{"lat":-36,"n":7,"grp":3},{"lat":-6,"n":7,"grp":3},{"lat":-4,"n":7,"grp":3},{"lat":-2,"n":7,"grp":3},{"lat":0,"n":7,"grp":3},{"lat":2,"n":7,"grp":3},{"lat":4,"n":7,"grp":3},{"lat":6,"n":7,"grp":3},{"lat":8,"n":7,"grp":3},{"lat":11,"n":7,"grp":3},{"lat":-63,"n":7,"grp":4},{"lat":-57,"n":7,"grp":4},{"lat":-52,"n":7,"grp":4},{"lat":-48,"n":7,"grp":4},{"lat":40,"n":7,"grp":4},{"lat":46,"n":7,"grp":4},{"lat":48,"n":7,"grp":4},{"lat":50,"n":7,"grp":4},
{"lat":-51,"n":6,"grp":2},{"lat":-44,"n":6,"grp":2},{"lat":30,"n":6,"grp":2},{"lat":40,"n":6,"grp":2},{"lat":50,"n":6,"grp":2},{"lat":52,"n":6,"grp":2},{"lat":54,"n":6,"grp":2},{"lat":-4,"n":6,"grp":3},{"lat":-2,"n":6,"grp":3},{"lat":0,"n":6,"grp":3},{"lat":2,"n":6,"grp":3},{"lat":4,"n":6,"grp":3},{"lat":6,"n":6,"grp":3},{"lat":8,"n":6,"grp":3},{"lat":9,"n":6,"grp":3},{"lat":-61,"n":6,"grp":4},{"lat":-59,"n":6,"grp":4},{"lat":-57,"n":6,"grp":4},{"lat":-53,"n":6,"grp":4},{"lat":48,"n":6,"grp":4},
{"lat":-47,"n":5,"grp":2},{"lat":-42,"n":5,"grp":2},{"lat":-40,"n":5,"grp":2},{"lat":-39,"n":5,"grp":2},{"lat":48,"n":5,"grp":2},{"lat":-4,"n":5,"grp":3},{"lat":-2,"n":5,"grp":3},{"lat":0,"n":5,"grp":3},{"lat":2,"n":5,"grp":3},{"lat":4,"n":5,"grp":3},{"lat":6,"n":5,"grp":3},{"lat":8,"n":5,"grp":3},{"lat":10,"n":5,"grp":3},{"lat":12,"n":5,"grp":3},{"lat":13,"n":5,"grp":3},{"lat":-61,"n":5,"grp":4},{"lat":-59,"n":5,"grp":4},{"lat":-57,"n":5,"grp":4},{"lat":40,"n":5,"grp":4},{"lat":54,"n":5,"grp":4},
{"lat":-39,"n":4,"grp":2},{"lat":40,"n":4,"grp":2},{"lat":-4,"n":4,"grp":3},{"lat":-2,"n":4,"grp":3},{"lat":0,"n":4,"grp":3},{"lat":2,"n":4,"grp":3},{"lat":4,"n":4,"grp":3},{"lat":6,"n":4,"grp":3},{"lat":8,"n":4,"grp":3},{"lat":10,"n":4,"grp":3},{"lat":-60,"n":4,"grp":4},{"lat":-56,"n":4,"grp":4},{"lat":51,"n":4,"grp":4},
{"lat":-37,"n":3,"grp":2},{"lat":42,"n":3,"grp":2},{"lat":-3,"n":3,"grp":3},{"lat":-1,"n":3,"grp":3},{"lat":1,"n":3,"grp":3},{"lat":3,"n":3,"grp":3},{"lat":5,"n":3,"grp":3},{"lat":7,"n":3,"grp":3},{"lat":-63,"n":3,"grp":4},{"lat":-61,"n":3,"grp":4},{"lat":-59,"n":3,"grp":4},{"lat":-57,"n":3,"grp":4},
{"lat":52,"n":2,"grp":2},{"lat":-64,"n":2,"grp":4},{"lat":-63,"n":2,"grp":4}
]
},
"vconcat": [
{"hconcat": [
  {"width": 478, "height": 331, "data": {"name": "atl"},
   "mark": {"type": "circle", "size": 44, "fillOpacity": 0.75, "strokeOpacity": 0.85, "strokeWidth": 1},
   "encoding": {
     "x": {"field": "lat", "type": "quantitative", "scale": {"domain": [-90, 90], "nice": false, "zero": false}, "axis": {"values": [-90,-60,-30,0,30,60,90], "labels": false, "ticks": false, "title": null}},
     "y": {"field": "n", "type": "quantitative", "scale": {"domain": [0.15, 29.9], "nice": false, "zero": false}, "axis": {"values": [5,10,15,20,25], "title": null}},
     "fill": {"field": "grp", "type": "nominal", "scale": {"domain": [1,2,3,4], "range": ["#35B779","#31688E","#440154","#FDE725"]}, "legend": null},
     "stroke": {"field": "grp", "type": "nominal", "scale": {"domain": [1,2,3,4], "range": ["#35B779","#31688E","#440154","#FDE725"]}, "legend": null},
     "order": {"field": "grp", "type": "quantitative"}
   }},
  {"width": 43, "height": 331, "data": {"values": [{"ocean": "Atlantic"}]}, "view": {"fill": "#D9D9D9", "stroke": "#333333"},
   "mark": {"type": "text", "angle": 90, "fontSize": 22, "color": "#1A1A1A", "baseline": "middle", "align": "center"},
   "encoding": {"text": {"field": "ocean", "type": "nominal"}}}
], "spacing": 0, "bounds": "flush"},
{"hconcat": [
  {"width": 478, "height": 331, "data": {"name": "ind"},
   "mark": {"type": "circle", "size": 44, "fillOpacity": 0.75, "strokeOpacity": 0.85, "strokeWidth": 1},
   "encoding": {
     "x": {"field": "lat", "type": "quantitative", "scale": {"domain": [-90, 90], "nice": false, "zero": false}, "axis": {"values": [-90,-60,-30,0,30,60,90], "labels": false, "ticks": false, "title": null}},
     "y": {"field": "n", "type": "quantitative", "scale": {"domain": [0.15, 29.9], "nice": false, "zero": false}, "axis": {"values": [5,10,15,20,25], "title": "Number of species"}},
     "fill": {"field": "grp", "type": "nominal", "scale": {"domain": [1,2,3,4], "range": ["#35B779","#31688E","#440154","#FDE725"]}, "legend": null},
     "stroke": {"field": "grp", "type": "nominal", "scale": {"domain": [1,2,3,4], "range": ["#35B779","#31688E","#440154","#FDE725"]}, "legend": null},
     "order": {"field": "grp", "type": "quantitative"}
   }},
  {"width": 43, "height": 331, "data": {"values": [{"ocean": "Indian"}]}, "view": {"fill": "#D9D9D9", "stroke": "#333333"},
   "mark": {"type": "text", "angle": 90, "fontSize": 22, "color": "#1A1A1A", "baseline": "middle", "align": "center"},
   "encoding": {"text": {"field": "ocean", "type": "nominal"}}}
], "spacing": 0, "bounds": "flush"},
{"hconcat": [
  {"width": 478, "height": 331, "data": {"name": "pac"},
   "mark": {"type": "circle", "size": 44, "fillOpacity": 0.75, "strokeOpacity": 0.85, "strokeWidth": 1},
   "encoding": {
     "x": {"field": "lat", "type": "quantitative", "scale": {"domain": [-90, 90], "nice": false, "zero": false}, "axis": {"values": [-90,-60,-30,0,30,60,90], "title": "Latitude", "labelExpr": "'' + datum.value", "titlePadding": 13}},
     "y": {"field": "n", "type": "quantitative", "scale": {"domain": [0.15, 29.9], "nice": false, "zero": false}, "axis": {"values": [5,10,15,20,25], "title": null}},
     "fill": {"field": "grp", "type": "nominal", "scale": {"domain": [1,2,3,4], "range": ["#35B779","#31688E","#440154","#FDE725"]}, "legend": null},
     "stroke": {"field": "grp", "type": "nominal", "scale": {"domain": [1,2,3,4], "range": ["#35B779","#31688E","#440154","#FDE725"]}, "legend": null},
     "order": {"field": "grp", "type": "quantitative"}
   }},
  {"width": 43, "height": 331, "data": {"values": [{"ocean": "Pacific"}]}, "view": {"fill": "#D9D9D9", "stroke": "#333333"},
   "mark": {"type": "text", "angle": 90, "fontSize": 22, "color": "#1A1A1A", "baseline": "middle", "align": "center"},
   "encoding": {"text": {"field": "ocean", "type": "nominal"}}}
], "spacing": 0, "bounds": "flush"}
]
}
